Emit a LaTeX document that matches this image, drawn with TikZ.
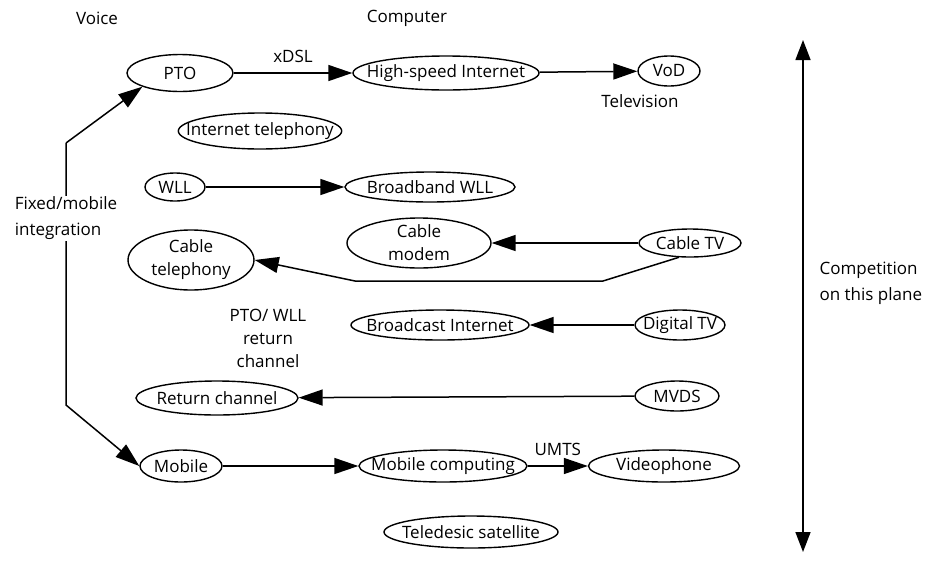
\documentclass[tikz,border=0pt]{standalone}
\usepackage{fontspec}
\setmainfont{Open Sans}
\usetikzlibrary{arrows.meta,shapes.geometric}
\tikzset{
  oval/.style={draw, ellipse, line width=1.4pt, inner xsep=-16pt, inner ysep=-2pt,
               align=center, font=\fontsize{17}{23}\selectfont},
  txt/.style={align=center, font=\fontsize{17}{26}\selectfont},
  arr/.style={-{Triangle[length=24pt,width=16pt]}, line width=1.5pt},
  darr/.style={{Triangle[length=20pt,width=15pt]}-{Triangle[length=20pt,width=15pt]}, line width=1.5pt}}

\begin{document}
\begin{tikzpicture}[x=1pt,y=-1pt]
    \useasboundingbox (0,0) rectangle (942,563);
    % column headings
    \node[txt] (voice) at (97,18) {Voice};
    \node[txt] (comp) at (407,18) {Computer};
    \node[txt] (tv) at (640,101) {Television};
    % services
    \node[oval, minimum width=106, minimum height=37] (pto) at (180,73) {PTO};
    \node[oval, minimum width=186, minimum height=34] (hsi) at (446,73) {High-speed Internet};
    \node[oval, minimum width=62, minimum height=30] (vod) at (669,71) {VoD};
    \node[oval, minimum width=150, minimum height=36] (itel) at (260,131) {Internet telephony};
    \node[oval, minimum width=60, minimum height=28] (wll) at (175,187) {WLL};
    \node[oval, minimum width=170, minimum height=30] (bbwll) at (430,187) {Broadband WLL};
    \node[oval, minimum width=144, minimum height=50] (cmod) at (419,243) {Cable\\modem};
    \node[oval, minimum width=102, minimum height=28] (ctv) at (690,243) {Cable TV};
    \node[oval, minimum width=126, minimum height=60] (ctel) at (191,260) {Cable\\telephony};
    \node[oval, minimum width=178, minimum height=30] (bci) at (440,325) {Broadcast Internet};
    \node[oval, minimum width=90, minimum height=30] (dtv) at (680,325) {Digital TV};
    \node[oval, minimum width=162, minimum height=34] (ret) at (217,398) {Return channel};
    \node[oval, minimum width=84, minimum height=30] (mvds) at (677,396) {MVDS};
    \node[oval, minimum width=82, minimum height=32] (mob) at (181,466) {Mobile};
    \node[oval, minimum width=168, minimum height=32] (mcomp) at (443,466) {Mobile computing};
    \node[oval, minimum width=151, minimum height=32] (vph) at (664,466) {Videophone};
    \node[oval, minimum width=174, minimum height=32] (tsat) at (471,532) {Teledesic satellite};
    \node[txt, font=\fontsize{17}{23}\selectfont] (plane) at (268,338) {PTO/ WLL\\return\\channel};
    % connectors
    \draw[arr] (pto) -- (hsi) node[midway, above=6pt, txt] (xdsl) {xDSL};
    \draw[arr] (hsi) -- (vod);
    \draw[arr] (wll) -- (bbwll);
    \draw[arr] (ctv) -- (cmod);
    \coordinate (ct1) at (603,281);
    \coordinate (ct2) at (355,281);
    \draw[arr] (ctv.232) -- (ct1) -- (ct2) -- (ctel.east);
    \draw[arr] (dtv) -- (bci);
    \draw[arr] (mvds) -- (ret);
    \draw[arr] (mob) -- (mcomp);
    \draw[arr] (mcomp) -- (vph) node[midway, above=6pt, txt] (umts) {UMTS};
    % fixed/mobile integration
    \coordinate (fmtop) at (66,143);
    \coordinate (fmbot) at (66,405);
    \draw[arr] (fmtop) -- (pto.200);
    \draw[arr] (fmtop) -- (fmbot) -- (mob.west);
    \node[txt, fill=white, align=left, inner sep=1pt] (fmi) at (66,218) {Fixed/mobile\\integration};
    % competition axis
    \coordinate (ptop) at (803,40);
    \coordinate (pbot) at (803,552);
    \draw[darr] (ptop) -- (pbot);
    \node[txt, align=left, anchor=west] (comp2) at (816,283) {Competition\\on this plane};
\end{tikzpicture}
\end{document}
